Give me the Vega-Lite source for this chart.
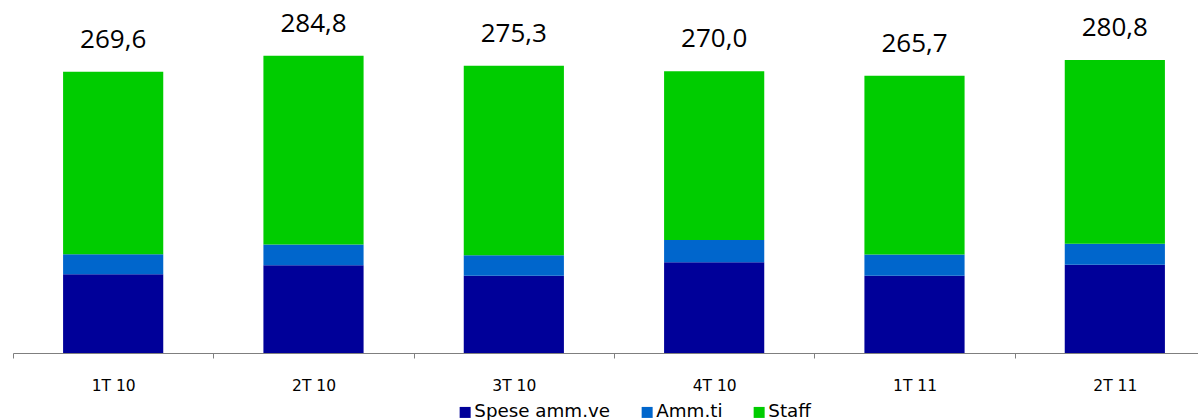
{
  "$schema": "https://vega.github.io/schema/vega-lite/v6.json",
  "autosize": {"type": "none"},
  "width": 1185,
  "height": 313,
  "padding": {"left": 13, "top": 40, "right": 0, "bottom": 67},
  "background": "white",
  "config": {
    "view": {"stroke": null},
    "locale": {"number": {"decimal": ",", "thousands": ".", "grouping": [3], "currency": ["", " €"]}}
  },
  "data": {
    "values": [
      {"trimestre": "1T 10", "voce": "Spese amm.ve", "valore": 75.4},
      {"trimestre": "1T 10", "voce": "Amm.ti", "valore": 19.2},
      {"trimestre": "1T 10", "voce": "Staff", "valore": 175.0},
      {"trimestre": "2T 10", "voce": "Spese amm.ve", "valore": 84.1},
      {"trimestre": "2T 10", "voce": "Amm.ti", "valore": 19.8},
      {"trimestre": "2T 10", "voce": "Staff", "valore": 180.9},
      {"trimestre": "3T 10", "voce": "Spese amm.ve", "valore": 74.1},
      {"trimestre": "3T 10", "voce": "Amm.ti", "valore": 19.6},
      {"trimestre": "3T 10", "voce": "Staff", "valore": 181.6},
      {"trimestre": "4T 10", "voce": "Spese amm.ve", "valore": 86.9},
      {"trimestre": "4T 10", "voce": "Amm.ti", "valore": 21.4},
      {"trimestre": "4T 10", "voce": "Staff", "valore": 161.7},
      {"trimestre": "1T 11", "voce": "Spese amm.ve", "valore": 74.1},
      {"trimestre": "1T 11", "voce": "Amm.ti", "valore": 20.2},
      {"trimestre": "1T 11", "voce": "Staff", "valore": 171.4},
      {"trimestre": "2T 11", "voce": "Spese amm.ve", "valore": 84.7},
      {"trimestre": "2T 11", "voce": "Amm.ti", "valore": 20.1},
      {"trimestre": "2T 11", "voce": "Staff", "valore": 176.0}
    ]
  },
  "encoding": {
    "x": {
      "field": "trimestre",
      "type": "nominal",
      "sort": null,
      "scale": {"paddingInner": 0, "paddingOuter": 0, "range": [0, 1202]},
      "axis": {
        "title": null,
        "labelAngle": 0,
        "tickBand": "extent",
        "domainColor": "#7f7f7f",
        "tickColor": "#7f7f7f",
        "tickSize": 5,
        "labelFont": "DejaVu Sans",
        "labelFontSize": 15.5,
        "labelColor": "#000000",
        "labelPadding": 20
      }
    }
  },
  "layer": [
    {
      "transform": [
        {"calculate": "indexof(['Spese amm.ve', 'Amm.ti', 'Staff'], datum.voce)", "as": "pila"}
      ],
      "mark": {"type": "bar", "width": {"band": 0.5}},
      "encoding": {
        "y": {
          "field": "valore",
          "type": "quantitative",
          "stack": "zero",
          "scale": {"domain": [0, 300], "nice": false},
          "axis": null
        },
        "color": {
          "field": "voce",
          "type": "nominal",
          "sort": ["Spese amm.ve", "Amm.ti", "Staff"],
          "scale": {
            "domain": ["Spese amm.ve", "Amm.ti", "Staff"],
            "range": ["#000099", "#0066cc", "#00cc00"]
          },
          "legend": {
            "title": null,
            "orient": "none",
            "direction": "horizontal",
            "legendX": 443,
            "legendY": 363,
            "symbolType": "square",
            "symbolSize": 121,
            "symbolStrokeWidth": 0,
            "labelFont": "DejaVu Sans",
            "labelFontSize": 18.3,
            "labelColor": "#000000",
            "labelOffset": 0,
            "columnPadding": 27,
            "padding": 0
          }
        },
        "order": {"field": "pila", "sort": "ascending"}
      }
    },
    {
      "mark": {
        "type": "text",
        "dy": -24,
        "baseline": "alphabetic",
        "font": "Open Sans",
        "fontSize": 26,
        "color": "#000000"
      },
      "encoding": {
        "y": {"aggregate": "sum", "field": "valore", "type": "quantitative"},
        "text": {"aggregate": "sum", "field": "valore", "type": "quantitative", "format": ".1f"}
      }
    }
  ]
}
